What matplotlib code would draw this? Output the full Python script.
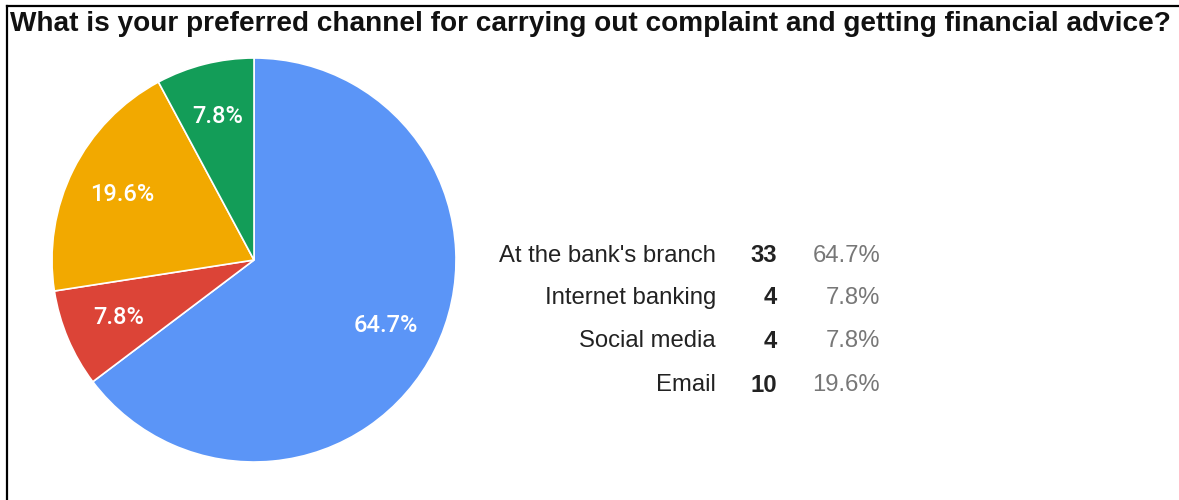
import matplotlib
matplotlib.use("Agg")
import matplotlib.pyplot as plt
from matplotlib.lines import Line2D

title = "What is your preferred channel for carrying out complaint and getting financial advice?"

# table rows, as listed next to the pie
options = ["At the bank's branch", "Internet banking", "Social media", "Email"]
counts = [33, 4, 4, 10]

# slice order around the pie (clockwise from the top) and slice colours
slice_order = [0, 1, 3, 2]
slice_colors = ["#5b95f7", "#dc4437", "#f2a900", "#139d58"]

W, H = 1179, 500
fig = plt.figure(figsize=(W / 100, H / 100), dpi=100)
fig.patch.set_facecolor("white")

def px(x, y):
    # pixel position (from top-left) to figure fraction
    return x / W, 1 - y / H

total = sum(counts)
pie_vals = [counts[i] for i in slice_order]

# pie axes: centre (254, 260), radius 202 px
cx, cy, r = 254, 260, 202
ax = fig.add_axes([(cx - r) / W, (H - cy - r) / H, 2 * r / W, 2 * r / H])
wedges, texts, autotexts = ax.pie(
    pie_vals, colors=slice_colors, startangle=90, counterclock=False,
    autopct=lambda p: f"{p:.1f}%", pctdistance=0.73,
    wedgeprops=dict(edgecolor="white", linewidth=1.2),
    textprops=dict(color="white", fontsize=17, family="Roboto", weight="medium"))
ax.set_xlim(-1, 1)
ax.set_ylim(-1, 1)
ax.set_aspect("equal")
ax.axis("off")

# title
fig.text(*px(10, 24), title, ha="left", va="center", fontsize=20.2,
         weight="bold", family="Liberation Sans", color="#111111")

# summary table to the right of the pie
row_y = [256, 298, 341, 385]
for name, n, y in zip(options, counts, row_y):
    fig.text(*px(716, y), name, ha="right", va="center", fontsize=17.2,
             family="Liberation Sans", color="#222222")
    fig.text(*px(777, y), str(n), ha="right", va="center", fontsize=17.2,
             weight="bold", family="Liberation Sans", color="#222222")
    fig.text(*px(880, y), f"{100 * n / total:.1f}%", ha="right", va="center",
             fontsize=17.2, family="Liberation Sans", color="#777777")

# frame lines on top and left edge
fig.add_artist(Line2D([7 / W, 1], [1 - 6 / H, 1 - 6 / H], color="black", lw=1.6))
fig.add_artist(Line2D([7 / W, 7 / W], [0, 1 - 6 / H], color="black", lw=1.6))

fig.savefig("out.png", dpi=100)
